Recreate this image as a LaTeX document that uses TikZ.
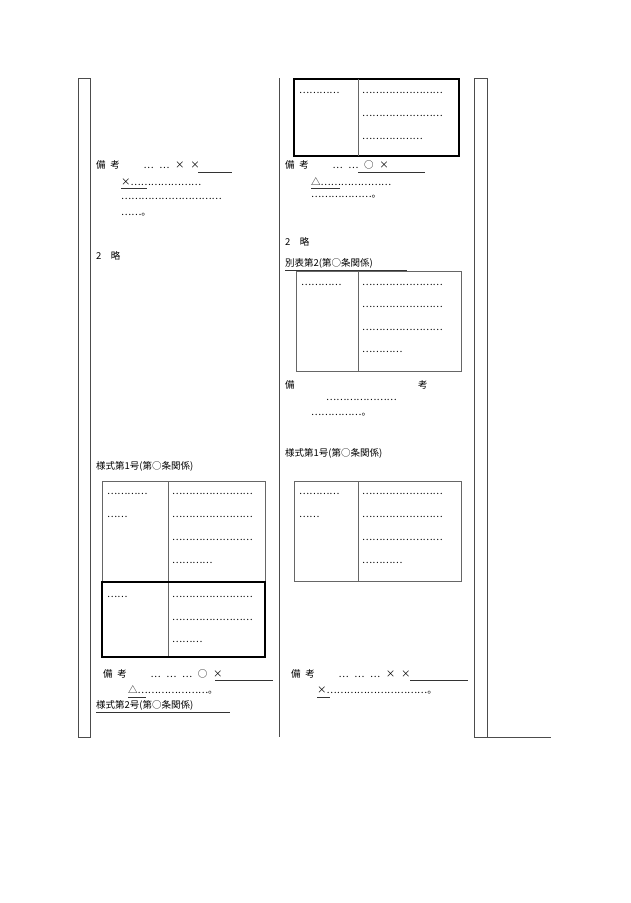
\documentclass[tikz,border=0pt]{standalone}
\usepackage{fontspec}
\setmainfont{Noto Sans CJK JP}
\usetikzlibrary{positioning}
\tikzset{
  txt/.style={anchor=west,inner sep=0pt,font=\fontsize{9.5}{11}\selectfont},
  rule/.style={line width=0.6pt,draw=black!70},
  thin/.style={line width=0.7pt,draw=black!60},
  thick/.style={line width=1.6pt,draw=black},
  uline/.style={line width=0.6pt,draw=black!80}
}
\newcommand{\dd}{…}
\begin{document}
\begin{tikzpicture}[x=1pt,y=-1pt,line cap=butt]
\useasboundingbox (0,0) rectangle (630,903);
% frame lines
\draw[rule] (78,78) rectangle (90,737);
\draw[rule] (279,78) -- (279,737);
\draw[rule] (474,78) rectangle (487,737);
\draw[rule] (487,737) -- (551,737);
% left column
\node[txt] (lb1) at (96,165) {備\hspace{0.5em}考\hspace{2.5em}…\hspace{0.6em}…\hspace{0.6em}×\hspace{0.6em}×};
\draw[uline] (198,172) -- (232,172);
\node[txt] (lb2) at (121,182) {×…………………};
\draw[uline] (121,188) -- (147,188);
\node[txt] (lb3) at (121,199) {…………………………};
\node[txt] (lb4) at (121,215) {……。};
\node[txt] (lr) at (96,256) {2\hspace{1em}略};
\node[txt] (lf1) at (96,466) {様式第1号(第○条関係)};
% left table
\draw[thin] (102,481) rectangle (265,657);
\draw[thin] (168,481) -- (168,657);
\draw[thick] (102,582) rectangle (265,657);
\node[txt] at (107,494) {…………};
\node[txt] at (107,517) {……};
\foreach \y in {494,517,540} \node[txt] at (172,\y) {……………………};
\node[txt] at (172,563) {…………};
\node[txt] at (107,597) {……};
\foreach \y in {597,620} \node[txt] at (172,\y) {……………………};
\node[txt] at (172,642) {………};
\node[txt] (lb5) at (103,674) {備\hspace{0.5em}考\hspace{2.5em}…\hspace{0.6em}…\hspace{0.6em}…\hspace{0.6em}○\hspace{0.6em}×};
\draw[uline] (215,680) -- (273,680);
\node[txt] (lb6) at (128,690) {△…………………。};
\draw[uline] (128,697) -- (146,697);
\node[txt] (lf2) at (96,705) {様式第2号(第○条関係)};
\draw[uline] (96,712) -- (230,712);
% middle column
\draw[thick] (294,79) rectangle (459,156);
\draw[thin] (358,79) -- (358,156);
\node[txt] at (299,93) {…………};
\foreach \y in {93,116} \node[txt] at (362,\y) {……………………};
\node[txt] at (362,139) {………………};
\node[txt] (mb1) at (285,165) {備\hspace{0.5em}考\hspace{2.5em}…\hspace{0.6em}…\hspace{0.6em}○\hspace{0.6em}×};
\draw[uline] (358,172) -- (425,172);
\node[txt] (mb2) at (311,182) {△…………………};
\draw[uline] (311,188) -- (340,188);
\node[txt] (mb3) at (311,197) {………………。};
\node[txt] (mr) at (285,242) {2\hspace{1em}略};
\node[txt] (mt2) at (285,263) {別表第2(第○条関係)};
\draw[uline] (285,270) -- (407,270);
\draw[thin] (296,271) rectangle (461,371);
\draw[thin] (358,271) -- (358,371);
\node[txt] at (301,285) {…………};
\foreach \y in {285,307,330} \node[txt] at (362,\y) {……………………};
\node[txt] at (362,352) {…………};
\node[txt] (mb4) at (285,385) {備};
\node[txt] (mb5) at (418,385) {考};
\node[txt] (mb6) at (326,400) {…………………};
\node[txt] (mb7) at (311,415) {……………。};
\node[txt] (mf1) at (285,453) {様式第1号(第○条関係)};
\draw[thin] (294,481) rectangle (461,581);
\draw[thin] (358,481) -- (358,581);
\node[txt] at (299,494) {…………};
\node[txt] at (299,517) {……};
\foreach \y in {494,517,540} \node[txt] at (362,\y) {……………………};
\node[txt] at (362,563) {…………};
\node[txt] (mb8) at (291,674) {備\hspace{0.5em}考\hspace{2.5em}…\hspace{0.6em}…\hspace{0.6em}…\hspace{0.6em}×\hspace{0.6em}×};
\draw[uline] (410,680) -- (468,680);
\node[txt] (mb9) at (317,690) {×…………………………。};
\draw[uline] (317,697) -- (330,697);
\end{tikzpicture}
\end{document}
